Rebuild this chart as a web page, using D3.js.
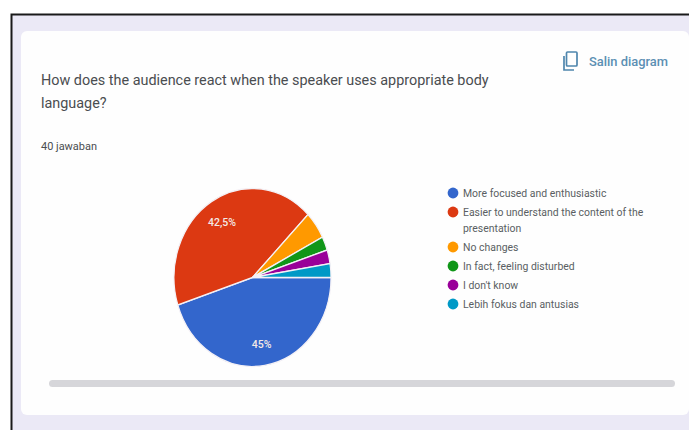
<!DOCTYPE html>
<html>
<head>
<meta charset="utf-8">
<script src="https://cdn.jsdelivr.net/npm/d3@7/dist/d3.min.js"></script>
<style>
  html, body { margin: 0; padding: 0; background: #fff; }
  svg { display: block; }
  text { font-family: Roboto, "Noto Sans", sans-serif; }
</style>
</head>
<body>
<svg id="chart" width="689" height="430"></svg>
<script>
const categories = [
  "More focused and enthusiastic",
  "Easier to understand the content of the presentation",
  "No changes",
  "In fact, feeling disturbed",
  "I don't know",
  "Lebih fokus dan antusias"
];
const shares = [45, 42.5, 5, 2.5, 2.5, 2.5];
const sliceColors = ["#3366cc", "#dc3912", "#ff9900", "#109618", "#990099", "#0099c6"];
const legendLines = [
  ["More focused and enthusiastic"],
  ["Easier to understand the content of the", "presentation"],
  ["No changes"],
  ["In fact, feeling disturbed"],
  ["I don't know"],
  ["Lebih fokus dan antusias"]
];
const legendRows = [193, 212, 247, 266, 285, 304];
const questionLines = [
  "How does the audience react when the speaker uses appropriate body",
  "language?"
];

const svg = d3.select("#chart");

// Window frame and page background
svg.append("rect").attr("x", 12).attr("y", 15).attr("width", 677).attr("height", 415)
  .attr("fill", "#ebe9f6");
svg.append("path").attr("d", "M11.5 430V14.5H689")
  .attr("fill", "none").attr("stroke", "#1a1a1a").attr("stroke-width", 2);

// Response card
svg.append("rect").attr("x", 21).attr("y", 31).attr("width", 668).attr("height", 384)
  .attr("rx", 6).attr("fill", "#fefefe");

// Question and response count
svg.append("g").selectAll("text").data(questionLines).join("text")
  .attr("x", 41).attr("y", (d, i) => 84.5 + i * 23.5)
  .attr("font-size", 14.4).attr("fill", "#4a4d50").text(d => d);
svg.append("text").attr("x", 41).attr("y", 150)
  .attr("font-size", 10.9).attr("textLength", 56).attr("lengthAdjust", "spacingAndGlyphs")
  .attr("fill", "#4a4d50").text("40 jawaban");

// Copy button: two overlapping sheets and its label
const copyIcon = svg.append("g").attr("fill", "none").attr("stroke", "#4f86ad").attr("stroke-width", 1.7);
copyIcon.append("rect").attr("x", 566.5).attr("y", 52).attr("width", 10.5).attr("height", 14).attr("rx", 1);
copyIcon.append("path").attr("d", "M564 56V70H574");
svg.append("text").attr("x", 589).attr("y", 65.5)
  .attr("font-size", 12.9).attr("font-weight", 500).attr("fill", "#5b8fb3").text("Salin diagram");

// Pie, drawn on a unit radius of 78.5 and stretched vertically
const pieRadius = 78.5;
const pieStretch = 89 / 78.5;
const pie = d3.pie().sort(null).value(d => d)
  .startAngle(Math.PI / 2).endAngle(Math.PI / 2 + 2 * Math.PI);
const arc = d3.arc().innerRadius(0).outerRadius(pieRadius);
const arcs = pie(shares);
const pieGroup = svg.append("g")
  .attr("transform", `translate(252.5,277.5) scale(1,${pieStretch})`);
pieGroup.selectAll("path").data(arcs).join("path")
  .attr("d", arc)
  .attr("fill", (d, i) => sliceColors[i])
  .attr("stroke", "#f4f1f6").attr("stroke-width", 1.2);

// Percentage labels on the two large slices
const labelArc = d3.arc().innerRadius(pieRadius * 0.745).outerRadius(pieRadius * 0.745);
svg.append("g").selectAll("text")
  .data(arcs.filter(d => d.value > 10)).join("text")
  .attr("transform", d => {
    const [x, y] = labelArc.centroid(d);
    return `translate(${252.5 + x},${278.5 + y * pieStretch})`;
  })
  .attr("text-anchor", "middle").attr("dy", "0.35em")
  .attr("font-size", 10.5).attr("font-weight", 500).attr("fill", "#f3e9e6")
  .text(d => String(d.value).replace(".", ",") + "%");

// Legend
const legend = svg.append("g").selectAll("g").data(categories).join("g")
  .attr("transform", (d, i) => `translate(0,${legendRows[i]})`);
legend.append("circle").attr("cx", 453).attr("cy", 0).attr("r", 5.4)
  .attr("fill", (d, i) => sliceColors[i]);
legend.each(function (d, i) {
  d3.select(this).selectAll("text").data(legendLines[i]).join("text")
    .attr("x", 463).attr("y", (t, j) => 3.5 + j * 16)
    .attr("font-size", 10.45).attr("fill", "#5a5e63").text(t => t);
});

// Horizontal scrollbar
svg.append("rect").attr("x", 49).attr("y", 380).attr("width", 626).attr("height", 7)
  .attr("rx", 3.5).attr("fill", "#d6d6da");
</script>
</body>
</html>
